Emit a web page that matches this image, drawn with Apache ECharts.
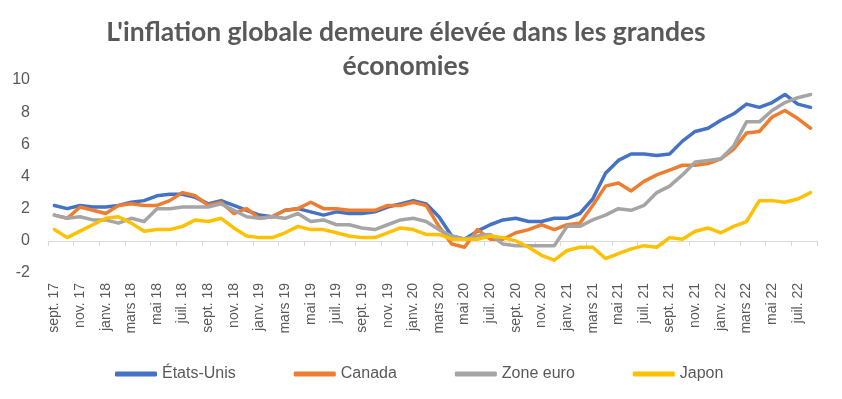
<!DOCTYPE html>
<html>
<head>
<meta charset="utf-8">
<script src="https://cdn.jsdelivr.net/npm/echarts@6/dist/echarts.min.js"></script>
<style>
html,body{margin:0;padding:0;background:#fff;}
#c{width:842px;height:399px;}
</style>
</head>
<body>
<div id="c"></div>
<script>
const months = ['janv.','févr.','mars','avr.','mai','juin','juil.','août','sept.','oct.','nov.','déc.'];
const categories = [];
for (let y = 17; y <= 22; y++) {
  for (let m = 0; m < 12; m++) {
    if (y === 17 && m < 8) continue;
    if (y === 22 && m > 7) continue;
    categories.push(months[m] + ' ' + y);
  }
}
const etatsUnis = [2.2,2.0,2.2,2.1, 2.1,2.2,2.4,2.5,2.8,2.9,2.9,2.7,2.3,2.5,2.2,1.9, 1.6,1.5,1.9,2.0,1.8,1.6,1.8,1.7,1.7,1.8,2.1,2.3, 2.5,2.3,1.5,0.3,0.1,0.6,1.0,1.3,1.4,1.2,1.2,1.4, 1.4,1.7,2.6,4.2,5.0,5.4,5.4,5.3,5.4,6.2,6.8,7.0, 7.5,7.9,8.5,8.3,8.6,9.1,8.5,8.3];
const canada = [1.6,1.4,2.1,1.9, 1.7,2.2,2.3,2.2,2.2,2.5,3.0,2.8,2.2,2.4,1.7,2.0, 1.4,1.5,1.9,2.0,2.4,2.0,2.0,1.9,1.9,1.9,2.2,2.2, 2.4,2.2,0.9,-0.2,-0.4,0.7,0.1,0.1,0.5,0.7,1.0,0.7, 1.0,1.1,2.2,3.4,3.6,3.1,3.7,4.1,4.4,4.7,4.7,4.8, 5.1,5.7,6.7,6.8,7.7,8.1,7.6,7.0];
const zoneEuro = [1.6,1.4,1.5,1.3, 1.3,1.1,1.4,1.2,2.0,2.0,2.1,2.1,2.1,2.3,1.9,1.5, 1.4,1.5,1.4,1.7,1.2,1.3,1.0,1.0,0.8,0.7,1.0,1.3, 1.4,1.2,0.7,0.3,0.1,0.3,0.4,-0.2,-0.3,-0.3,-0.3,-0.3, 0.9,0.9,1.3,1.6,2.0,1.9,2.2,3.0,3.4,4.1,4.9,5.0, 5.1,5.9,7.4,7.4,8.1,8.6,8.9,9.1];
const japon = [0.7,0.2,0.6,1.0, 1.4,1.5,1.1,0.6,0.7,0.7,0.9,1.3,1.2,1.4,0.8,0.3, 0.2,0.2,0.5,0.9,0.7,0.7,0.5,0.3,0.2,0.2,0.5,0.8, 0.7,0.4,0.4,0.1,0.1,0.1,0.3,0.2,0.0,-0.4,-0.9,-1.2, -0.6,-0.4,-0.4,-1.1,-0.8,-0.5,-0.3,-0.4,0.2,0.1,0.6,0.8, 0.5,0.9,1.2,2.5,2.5,2.4,2.6,3.0];
const seriesNames = ['États-Unis','Canada','Zone euro','Japon'];
const colors = ['#4472C4','#ED7D31','#A5A5A5','#FFC000'];
const yTicks = {min:-2, max:10, interval:2};

const chart = echarts.init(document.getElementById('c'), null, {renderer:'canvas'});
const dataSets = [etatsUnis, canada, zoneEuro, japon];
const grid = {left:48, right:25, top:80, bottom:126};
chart.setOption({
  animation:false,
  backgroundColor:'#fff',
  color: colors,
  title:{
    text:"L'inflation globale demeure élevée dans les grandes\néconomies",
    left:401, top:10, textAlign:'center',
    textStyle:{fontFamily:'Lato', fontWeight:'bold', fontSize:26.5, color:'#595959', lineHeight:34}
  },
  legend:{
    data: seriesNames.map(n=>({name:n, icon:'roundRect'})),
    left:110, top:361, itemWidth:42, itemHeight:5, itemGap:58,
    textStyle:{fontFamily:'Liberation Sans', fontSize:16, color:'#595959'}
  },
  grid: grid,
  xAxis:[{
    type:'category', data:categories, boundaryGap:true,
    axisLine:{show:false, onZero:false}, axisTick:{show:false},
    axisLabel:{interval:1, rotate:90, margin:10, fontFamily:'Liberation Sans', fontSize:14, color:'#595959'}
  },{
    type:'category', data:categories, boundaryGap:true, position:'bottom',
    axisLine:{show:true, onZero:true, onZeroAxisIndex:0, lineStyle:{color:'#D9D9D9', width:1}},
    axisTick:{show:true, interval:1, length:5, lineStyle:{color:'#D9D9D9'}},
    axisLabel:{show:false}
  }],
  yAxis:{
    type:'value', min:yTicks.min, max:yTicks.max, interval:yTicks.interval,
    axisLine:{show:false}, axisTick:{show:false}, splitLine:{show:false},
    axisLabel:{margin:18, fontFamily:'Liberation Sans', fontSize:16, color:'#595959'}
  },
  series: dataSets.map((d,i)=>({
    name:seriesNames[i], type:'line', data:d, xAxisIndex:0,
    symbol:'none', smooth:false,
    lineStyle:{width:3.5, color:colors[i], cap:'round', join:'round'},
    itemStyle:{color:colors[i]}
  }))
});
</script>
</body>
</html>
